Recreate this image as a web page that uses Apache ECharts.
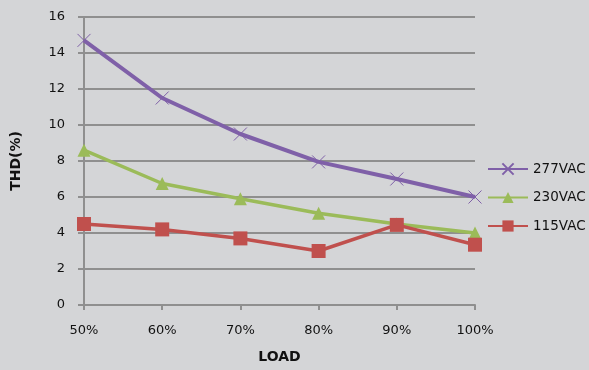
<!DOCTYPE html>
<html>
<head>
<meta charset="utf-8">
<script src="https://cdn.jsdelivr.net/npm/echarts@6/dist/echarts.min.js"></script>
<style>
  html, body { margin: 0; padding: 0; background: #d4d5d7; }
  #chart { width: 589px; height: 370px; }
</style>
</head>
<body>
<div id="chart"></div>
<script>
// Load levels along the x axis
const loads = ['50%', '60%', '70%', '80%', '90%', '100%'];

// THD (%) per input voltage
const thd277 = [14.7, 11.5, 9.5, 7.95, 7.0, 6.0];
const thd230 = [8.6, 6.75, 5.9, 5.1, 4.5, 4.0];
const thd115 = [4.5, 4.2, 3.7, 3.0, 4.45, 3.35];

const yTicks = { min: 0, max: 16, interval: 2 };

const purple = '#7f60a8';
const green = '#9bbb59';
const red = '#c0504d';
const gridGray = '#8f8f8f';
const font = 'DejaVu Sans';

const chart = echarts.init(document.getElementById('chart'), null, { renderer: 'canvas' });

chart.setOption({
  backgroundColor: '#d4d5d7',
  animation: false,
  grid: { left: 84, right: 114, top: 17, bottom: 65 },
  legend: {
    orient: 'vertical',
    left: 482,
    top: 157,
    itemWidth: 40,
    itemHeight: 14,
    itemGap: 14.5,
    textStyle: { fontFamily: font, fontSize: 13.5, color: '#111' },
    data: ['277VAC', '230VAC', '115VAC']
  },
  xAxis: {
    type: 'category',
    data: loads,
    boundaryGap: false,
    name: 'LOAD',
    nameLocation: 'middle',
    nameGap: 45,
    nameTextStyle: { fontFamily: font, fontSize: 14, fontWeight: 'bold', color: '#111' },
    axisLine: { lineStyle: { color: gridGray, width: 2 } },
    axisTick: { show: true, length: 5, lineStyle: { color: gridGray, width: 2 } },
    axisLabel: { fontFamily: font, fontSize: 13, color: '#111', margin: 19 },
    splitLine: { show: false }
  },
  yAxis: {
    type: 'value',
    min: yTicks.min,
    max: yTicks.max,
    interval: yTicks.interval,
    name: 'THD(%)',
    nameLocation: 'middle',
    nameGap: 61,
    nameRotate: 90,
    nameTextStyle: { fontFamily: font, fontSize: 14, fontWeight: 'bold', color: '#111' },
    axisLine: { show: true, lineStyle: { color: gridGray, width: 2 } },
    axisTick: { show: true, length: 6, lineStyle: { color: gridGray, width: 2 } },
    axisLabel: { fontFamily: font, fontSize: 13, color: '#111', margin: 19 },
    splitLine: { show: true, lineStyle: { color: gridGray, width: 2 } }
  },
  series: [
    {
      name: '277VAC',
      type: 'line',
      data: thd277,
      symbol: 'path://M0,0L10,10M10,0L0,10',
      symbolSize: 13,
      showSymbol: true,
      lineStyle: { color: purple, width: 4 },
      itemStyle: { color: 'rgba(0,0,0,0)', borderColor: purple, borderWidth: 1 },
      z: 3
    },
    {
      name: '230VAC',
      type: 'line',
      data: thd230,
      symbol: 'triangle',
      symbolSize: 13,
      lineStyle: { color: green, width: 3.5 },
      itemStyle: { color: green },
      z: 2
    },
    {
      name: '115VAC',
      type: 'line',
      data: thd115,
      symbol: 'rect',
      symbolSize: 14,
      lineStyle: { color: red, width: 3.5 },
      itemStyle: { color: red },
      z: 4
    }
  ]
});
</script>
</body>
</html>
